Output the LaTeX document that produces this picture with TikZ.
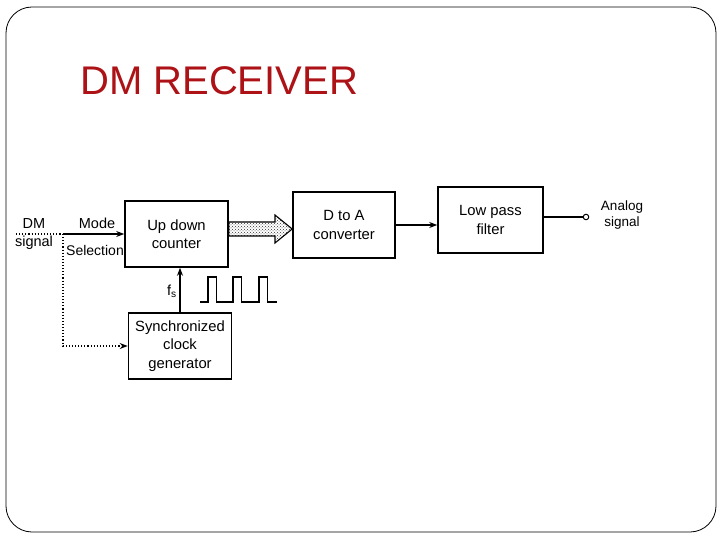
\documentclass[tikz,border=0pt]{standalone}
\usepackage{fontspec}
\setmainfont{Liberation Sans}
\usetikzlibrary{arrows.meta,patterns,calc}

\definecolor{titlered}{RGB}{172,18,22}

\tikzset{
  block/.style={draw, line width=1.6pt, minimum width=103pt,
    minimum height=66pt, align=center, inner sep=0pt,
    font=\fontsize{14.8}{18.5}\selectfont},
  lbl/.style={align=center, inner sep=0pt,
    font=\fontsize{14.5}{18.5}\selectfont},
  sig/.style={line width=1.1pt, -{Stealth[length=8pt,width=6pt]}},
  dots/.style={line width=1.1pt, dotted},
  busarrow/.style={line width=1.1pt, pattern=crosshatch dots,
    pattern color=black!80}
}

\begin{document}
\begin{tikzpicture}[x=1pt,y=-1pt]

    % Draw background and slide frame
    \fill[white] (0,0) rectangle (720,540);
    \draw[line width=0.8pt, rounded corners=26pt] (6,7) rectangle (716,532);

    % Draw title
    \node[anchor=base west, inner sep=0pt, text=titlered,
      font=\fontsize{40}{48}\selectfont] (title) at (80,95) {DM RECEIVER};

    % Draw blocks
    \node[block] (counter) at (176.5,234) {Up down\\counter};
    \node[block, minimum width=102pt] (dtoa) at (344,225) {D to A\\converter};
    \node[block, minimum width=105pt] (lpf) at (490.5,220) {Low pass\\filter};
    \node[block] (clock) at (180,346) {Synchronized\\clock\\generator};

    % Draw input side
    \coordinate (dmin) at (16,234);
    \coordinate (split) at (63,234);
    \node[lbl] (dm) at (34,234) {DM\\signal};
    \node[lbl] (mode) at (97,223) {Mode};
    \node[lbl, font=\fontsize{14}{18}\selectfont] (sel) at (95,250) {Selection};
    \draw[dots] (dmin) -- (split);
    \draw[sig] (split) -- (counter.west);
    \draw[dots, sig] (split) |- (clock.west);

    % Draw clock line into the counter
    \draw[sig] (clock.north) -- (clock.north |- counter.south);
    \node[lbl, anchor=east] (fs) at (177,291) {f\textsubscript{s}};

    % Draw pulse train
    \draw[line width=1.1pt] (200,302)
      foreach \x in {208,233,259}{
        -- (\x,302) -- (\x,277) -- (\x+8.5,277) -- (\x+8.5,302)
      } -- (277,302);

    % Draw bus arrow
    \coordinate (bus) at (0,229);
    \draw[busarrow] ($(counter.east |- bus)+(0,-7)$) -- (275,222)
      -- (275,215) -- (dtoa.west |- bus) -- (275,243) -- (275,236)
      -- ($(counter.east |- bus)+(0,7)$) -- cycle;

    % Draw output side
    \draw[sig] (dtoa.east) -- (dtoa.east -| lpf.west);
    \node[circle, draw, line width=1pt, inner sep=0pt,
      minimum size=5.5pt] (out) at (586,217) {};
    \draw[line width=1.2pt] (lpf.east |- out) -- (out);
    \node[lbl, font=\fontsize{13.5}{16.5}\selectfont] (analog) at (622,215)
      {Analog\\signal};

  \end{tikzpicture}
\end{document}
